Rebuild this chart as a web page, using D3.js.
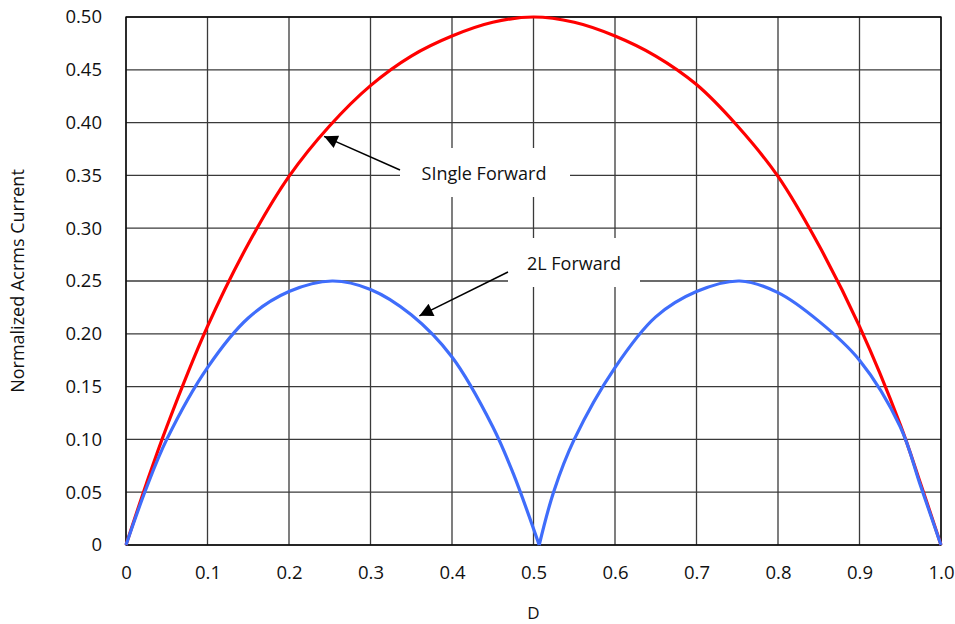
<!DOCTYPE html>
<html>
<head>
<meta charset="utf-8">
<script src="https://cdn.jsdelivr.net/npm/d3@7"></script>
<style>
  body { margin: 0; background: #fff; }
  svg text { font-family: "Open Sans", "Noto Sans", sans-serif; fill: #111; }
</style>
</head>
<body>
<div id="chart"></div>
<script>
// duty cycle D
const dutyD = [0, 0.025, 0.05, 0.1, 0.15, 0.2, 0.25, 0.3, 0.35, 0.4, 0.45, 0.5,
  0.55, 0.6, 0.65, 0.7, 0.75, 0.8, 0.85, 0.9, 0.95, 0.975, 1.0];

// Single Forward (red)
const singleFwd = [0, 0.058, 0.112, 0.207, 0.285, 0.349, 0.397, 0.435, 0.463, 0.482, 0.495, 0.500,
  0.495, 0.482, 0.463, 0.436, 0.397, 0.349, 0.284, 0.207, 0.114, 0.058, 0];

// 2L Forward (blue)
const twoLD = [0, 0.025, 0.05, 0.1, 0.15, 0.2, 0.253, 0.3, 0.35, 0.4, 0.45, 0.475, 0.507,
  0.525, 0.55, 0.6, 0.65, 0.7, 0.753, 0.8, 0.85, 0.9, 0.95, 0.975, 1.0];
const twoLFwd = [0, 0.054, 0.100, 0.168, 0.215, 0.240, 0.250, 0.242, 0.218, 0.178, 0.112, 0.068, 0,
  0.051, 0.100, 0.168, 0.216, 0.240, 0.250, 0.239, 0.212, 0.175, 0.112, 0.056, 0];

const xTicks = [0, 0.1, 0.2, 0.3, 0.4, 0.5, 0.6, 0.7, 0.8, 0.9, 1.0];
const xTickLabels = ["0", "0.1", "0.2", "0.3", "0.4", "0.5", "0.6", "0.7", "0.8", "0.9", "1.0"];
const yTicks = [0, 0.05, 0.10, 0.15, 0.20, 0.25, 0.30, 0.35, 0.40, 0.45, 0.50];
const yTickLabels = ["0", "0.05", "0.10", "0.15", "0.20", "0.25", "0.30", "0.35", "0.40", "0.45", "0.50"];

const width = 955, height = 624;
const margin = {top: 17, right: 14, bottom: 79, left: 126};

const svg = d3.select("#chart")
  .append("svg")
  .attr("width", width)
  .attr("height", height);

const x = d3.scaleLinear().domain([0, 1]).range([margin.left, width - margin.right]);
const y = d3.scaleLinear().domain([0, 0.5]).range([height - margin.bottom, margin.top]);

// grid
svg.append("g")
  .selectAll("line")
  .data(xTicks)
  .enter()
  .append("line")
  .attr("x1", d => x(d)).attr("x2", d => x(d))
  .attr("y1", y(0)).attr("y2", y(0.5))
  .attr("stroke", "#3a3a3a")
  .attr("stroke-width", 1.3);

svg.append("g")
  .selectAll("line")
  .data(yTicks)
  .enter()
  .append("line")
  .attr("x1", x(0)).attr("x2", x(1))
  .attr("y1", d => y(d)).attr("y2", d => y(d))
  .attr("stroke", "#3a3a3a")
  .attr("stroke-width", 1.3);

// border
svg.append("rect")
  .attr("x", x(0)).attr("y", y(0.5))
  .attr("width", x(1) - x(0)).attr("height", y(0) - y(0.5))
  .attr("fill", "none")
  .attr("stroke", "#000")
  .attr("stroke-width", 1.3);

// axes (labels only)
const xAxis = d3.axisBottom(x)
  .tickValues(xTicks)
  .tickFormat((d, i) => xTickLabels[i])
  .tickSize(0)
  .tickPadding(21);
svg.append("g")
  .attr("transform", `translate(0,${y(0)})`)
  .call(xAxis)
  .call(g => g.select(".domain").remove())
  .selectAll("text")
  .style("font-size", "18.5px")
  .style("font-family", "'Open Sans', sans-serif")
  .attr("fill", "#111");

const yAxis = d3.axisLeft(y)
  .tickValues(yTicks)
  .tickFormat((d, i) => yTickLabels[i])
  .tickSize(0)
  .tickPadding(24);
svg.append("g")
  .attr("transform", `translate(${x(0)},0)`)
  .call(yAxis)
  .call(g => g.select(".domain").remove())
  .selectAll("text")
  .style("font-size", "18.5px")
  .style("font-family", "'Open Sans', sans-serif")
  .attr("fill", "#111");

svg.append("text")
  .attr("x", x(0.5))
  .attr("y", 619)
  .attr("text-anchor", "middle")
  .style("font-size", "17px")
  .text("D");

svg.append("text")
  .attr("transform", `translate(24,281) rotate(-90)`)
  .attr("text-anchor", "middle")
  .style("font-size", "18px")
  .text("Normalized Acrms Current");

// curves
const line = d3.line()
  .x(d => x(d[0]))
  .y(d => y(d[1]))
  .curve(d3.curveCatmullRom.alpha(0.5));

svg.append("path")
  .datum(dutyD.map((d, i) => [d, singleFwd[i]]))
  .attr("d", line)
  .attr("fill", "none")
  .attr("stroke", "#ff0000")
  .attr("stroke-width", 3.2);

// two humps drawn as separate pieces, meeting in the sharp notch
const twoLPts = twoLD.map((d, i) => [d, twoLFwd[i]]);
const notch = twoLFwd.indexOf(0, 1);
[twoLPts.slice(0, notch + 1), twoLPts.slice(notch)].forEach(seg => {
  svg.append("path")
    .datum(seg)
    .attr("d", line)
    .attr("fill", "none")
    .attr("stroke", "#3f6dfb")
    .attr("stroke-width", 3.2);
});

// annotation boxes
svg.append("defs").append("marker")
  .attr("id", "arrow")
  .attr("viewBox", "0 0 10 10")
  .attr("refX", 10).attr("refY", 5)
  .attr("markerWidth", 14).attr("markerHeight", 9)
  .attr("markerUnits", "strokeWidth")
  .attr("orient", "auto")
  .append("path")
  .attr("d", "M0,0 L10,5 L0,10 Z")
  .attr("fill", "#000");

svg.append("rect")
  .attr("x", 400).attr("y", 148).attr("width", 170).attr("height", 49)
  .attr("fill", "#fff");
svg.append("text")
  .attr("x", 484).attr("y", 180)
  .attr("text-anchor", "middle")
  .style("font-size", "18px")
  .text("SIngle Forward");
svg.append("line")
  .attr("x1", 400).attr("y1", 170)
  .attr("x2", x(0.243)).attr("y2", y(0.387))
  .attr("stroke", "#000")
  .attr("stroke-width", 1.5)
  .attr("marker-end", "url(#arrow)");

svg.append("rect")
  .attr("x", 508).attr("y", 238).attr("width", 132).attr("height", 49)
  .attr("fill", "#fff");
svg.append("text")
  .attr("x", 574).attr("y", 270)
  .attr("text-anchor", "middle")
  .style("font-size", "18px")
  .text("2L Forward");
svg.append("line")
  .attr("x1", 508).attr("y1", 272)
  .attr("x2", x(0.360)).attr("y2", y(0.217))
  .attr("stroke", "#000")
  .attr("stroke-width", 1.5)
  .attr("marker-end", "url(#arrow)");
</script>
</body>
</html>
